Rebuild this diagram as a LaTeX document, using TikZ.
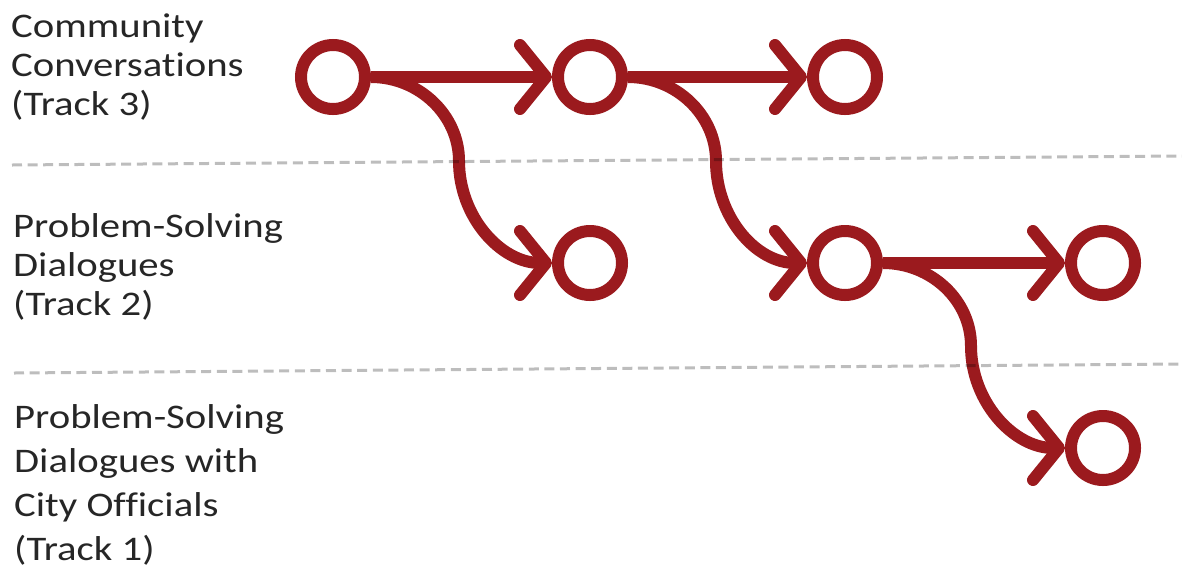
\documentclass[tikz,border=0pt]{standalone}
\usepackage{fontspec}
\setmainfont{Carlito}[Ligatures=NoCommon,FakeStretch=1.18]
\usetikzlibrary{arrows.meta}
\definecolor{trackred}{RGB}{155,26,30}
\begin{document}
\begin{tikzpicture}[x=1pt,y=-1pt,
  stage/.style={circle,draw=trackred,line width=12pt,minimum size=64pt,inner sep=0pt},
  flow/.style={draw=trackred,line width=12pt,
    -{Straight Barb[length=26pt,width=64pt,round]}},
  lane/.style={draw=black,opacity=0.26,line width=3pt,dash pattern=on 10pt off 5.6pt},
  tracklabel/.style={anchor=base west,inner sep=0pt,font=\fontsize{34.5}{39}\selectfont,text=black!85}]
\useasboundingbox (0,0) rectangle (1182,574);

% track labels
\node[tracklabel] (c1) at (11,37)  {Community};
\node[tracklabel] (c2) at (11,76)  {Conversations};
\node[tracklabel] (c3) at (11,115) {(Track 3)};
\node[tracklabel] (p1) at (13,237) {Problem-Solving};
\node[tracklabel] (p2) at (13,276) {Dialogues};
\node[tracklabel] (p3) at (13,315) {(Track 2)};
\node[tracklabel] (o1) at (14,428) {Problem-Solving};
\node[tracklabel] (o2) at (14,472) {Dialogues with};
\node[tracklabel] (o3) at (14,516) {City Officials};
\node[tracklabel] (o4) at (14,560) {(Track 1)};

% stages
\node[stage] (a1) at (333,77)  {};
\node[stage] (a2) at (590,77)  {};
\node[stage] (a3) at (845,77)  {};
\node[stage] (b1) at (590,263) {};
\node[stage] (b2) at (845,263) {};
\node[stage] (b3) at (1103,263) {};
\node[stage] (d1) at (1103,448) {};

% straight flows within a track
\draw[flow] (a1.east) -- (a2.west);
\draw[flow] (a2.east) -- (a3.west);
\draw[flow] (b2.east) -- (b3.west);

% branching flows down to the next track (S-shaped)
\draw[flow] (a1.east) .. controls +(48,0) and +(0,-46) .. ++(88,84)
  .. controls +(0,56) and +(-51,0) .. (b1.west);
\draw[flow] (a2.east) .. controls +(48,0) and +(0,-46) .. ++(88,84)
  .. controls +(0,56) and +(-51,0) .. (b2.west);
\draw[flow] (b2.east) .. controls +(48,0) and +(0,-46) .. ++(88,83)
  .. controls +(0,56) and +(-51,0) .. (d1.west);

% track separators
\draw[lane] (12,165) -- (1182,156);
\draw[lane] (14,373) -- (1182,364);
\end{tikzpicture}
\end{document}
